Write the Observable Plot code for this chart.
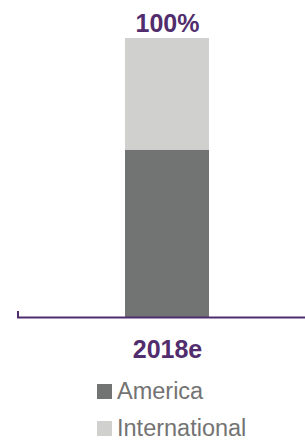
<!DOCTYPE html>
<html>
<head>
<meta charset="utf-8">
<script src="https://cdn.jsdelivr.net/npm/d3@7"></script>
<script src="https://cdn.jsdelivr.net/npm/@observablehq/plot@0.6"></script>
<style>
  html, body { margin: 0; padding: 0; background: #fff; }
  body { width: 305px; height: 441px; overflow: hidden; font-family: "Liberation Sans", Arial, sans-serif; }
  .legend { padding-left: 97px; margin-top: 3px; }
  .legend .item { display: flex; align-items: baseline; height: 37px; line-height: 37px; font-size: 23.5px; color: #737373; }
  .legend .sw { width: 15px; height: 15px; margin-right: 5px; }
</style>
</head>
<body>
<div id="chart"></div>
<script>
const years = ["2018e"];
const seriesNames = ["America", "International"];
const america = [60];
const international = [40];
const totalLabels = ["100%"];
const colors = ["#717473", "#d0d0ce"];
const purple = "#512d6d";

const rows = [];
years.forEach((yr, i) => {
  rows.push({year: yr, series: seriesNames[0], value: america[i]});
  rows.push({year: yr, series: seriesNames[1], value: international[i]});
});
const totals = years.map((yr, i) => ({year: yr, total: america[i] + international[i], label: totalLabels[i]}));

const marginLeft = 17, marginBottom = 53;
const plot = Plot.plot({
  width: 305,
  height: 370,
  marginTop: 38,
  marginBottom,
  marginLeft,
  marginRight: 0,
  style: {fontFamily: "'Liberation Sans', Arial, sans-serif", background: "#fff"},
  x: {domain: years, range: [30, 305], padding: 0.528, label: null},
  y: {domain: [0, 100], axis: null},
  color: {domain: seriesNames, range: colors},
  marks: [
    Plot.barY(rows, {x: "year", y: "value", fill: "series", order: seriesNames}),
    Plot.ruleY([0], {stroke: purple, strokeWidth: 2}),
    Plot.text(totals, {x: "year", y: "total", text: "label", dy: -15, fill: purple, fontWeight: "bold", fontSize: 25}),
    Plot.axisX({tickSize: 0, tickPadding: 23, fill: purple, fontWeight: "bold", fontSize: 25, label: null})
  ]
});
document.getElementById("chart").appendChild(plot);

// small upward tick at the left end of the baseline
const y0 = plot.scale("y").apply(0);
d3.select(plot).append("line")
  .attr("x1", marginLeft + 1).attr("x2", marginLeft + 1)
  .attr("y1", y0).attr("y2", y0 - 6)
  .attr("stroke", purple).attr("stroke-width", 2);

const legend = d3.select("body").append("div").attr("class", "legend");
seriesNames.forEach((s, i) => {
  const it = legend.append("div").attr("class", "item");
  it.append("div").attr("class", "sw").style("background", colors[i]);
  it.append("span").text(s);
});
</script>
</body>
</html>
